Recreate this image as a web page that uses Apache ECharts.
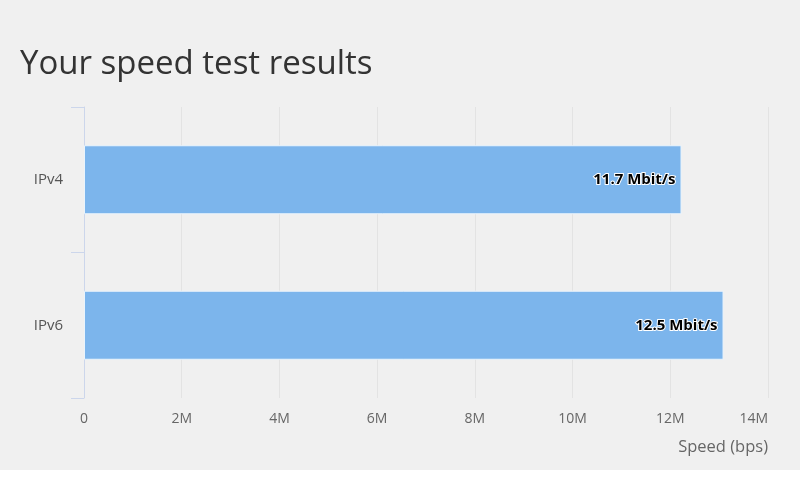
<!DOCTYPE html>
<html>
<head>
<meta charset="utf-8">
<script src="https://cdn.jsdelivr.net/npm/echarts@6/dist/echarts.min.js"></script>
<style>
html,body{margin:0;padding:0;background:#ffffff;}
#chart{width:800px;height:483px;}
</style>
</head>
<body>
<div id="chart"></div>
<script>
const titleText = 'Your speed test results';
const categories = ['IPv4', 'IPv6'];
const speedsBps = [12230000, 13090000];
const xTickValues = [0, 2000000, 4000000, 6000000, 8000000, 10000000, 12000000, 14000000];
const xAxisName = 'Speed (bps)';

const chart = echarts.init(document.getElementById('chart'), null, {renderer: 'canvas'});
const FONT = '"Open Sans", "Noto Sans", sans-serif';

chart.setOption({
  animation: false,
  backgroundColor: 'transparent',
  graphic: [{
    type: 'rect', z: -10, silent: true,
    shape: {x: 0, y: 0, width: 800, height: 470},
    style: {fill: '#f0f0f0'}
  }],
  title: {
    text: titleText,
    left: 20, top: 48,
    padding: 0,
    textStyle: {fontFamily: FONT, fontSize: 33, fontWeight: 'normal', color: '#333333'}
  },
  grid: {left: 84, right: 32, top: 107, bottom: 85, containLabel: false},
  xAxis: {
    type: 'value',
    min: 0, max: 14000000, interval: 2000000,
    name: xAxisName,
    nameLocation: 'end',
    nameGap: 0,
    nameTextStyle: {fontFamily: FONT, fontSize: 16.5, color: '#666666', align: 'right', verticalAlign: 'top', padding: [41, 0, 0, 0]},
    axisLine: {show: false},
    axisTick: {show: false},
    splitLine: {show: true, lineStyle: {color: '#e3e3e3', width: 1}},
    axisLabel: {
      fontFamily: FONT, fontSize: 14, color: '#666666', margin: 14,
      alignMaxLabel: 'right',
      formatter: function (v) { return v === 0 ? '0' : (v / 1000000) + 'M'; }
    }
  },
  yAxis: {
    type: 'category',
    data: categories,
    inverse: true,
    axisLine: {show: true, lineStyle: {color: '#ccd6eb', width: 1}},
    axisTick: {show: true, length: 13, lineStyle: {color: '#ccd6eb', width: 1}},
    axisLabel: {fontFamily: FONT, fontSize: 15, color: '#555555', margin: 21},
    splitLine: {show: false}
  },
  series: [{
    type: 'bar',
    data: speedsBps,
    barWidth: 69,
    itemStyle: {color: '#7cb5ec', borderColor: '#eaf4fc', borderWidth: 1},
    label: {
      show: true,
      position: 'insideRight',
      distance: 6,
      fontFamily: FONT, fontSize: 15, fontWeight: 'bold', color: '#000000',
      textBorderColor: '#ffffff', textBorderWidth: 2,
      formatter: function (p) { return (p.value / 1048576).toFixed(1) + ' Mbit/s'; }
    }
  }]
});
</script>
</body>
</html>
